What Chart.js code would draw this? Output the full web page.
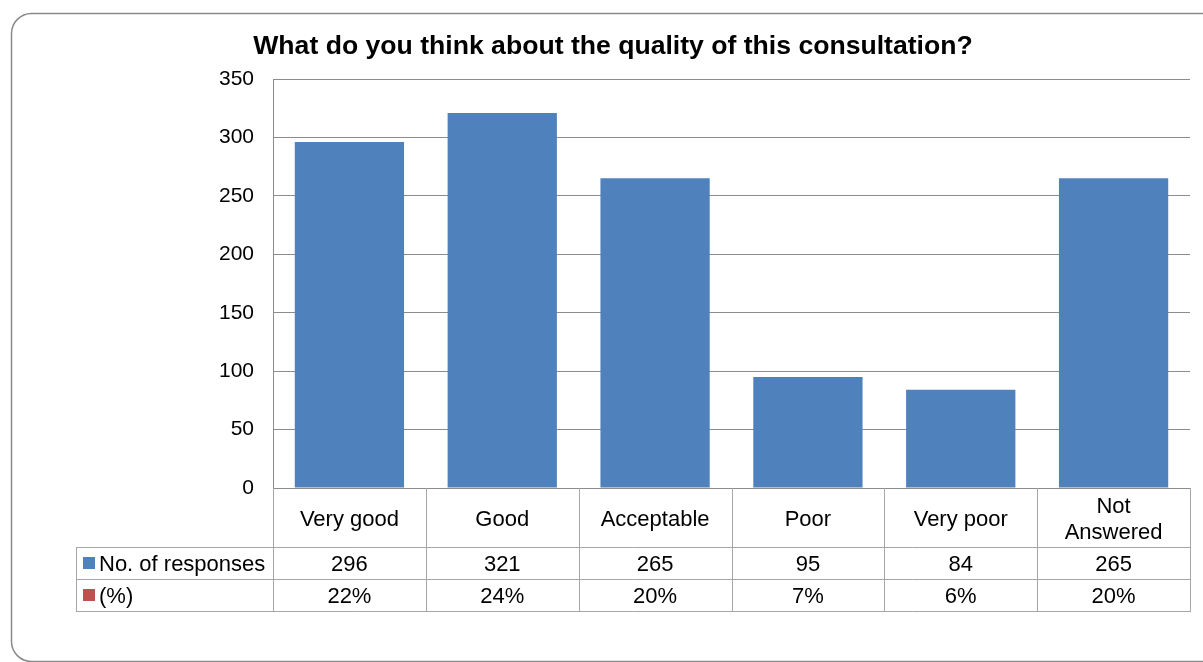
<!DOCTYPE html>
<html>
<head>
<meta charset="utf-8">
<script src="https://cdn.jsdelivr.net/npm/chart.js@4"></script>
<style>
  html, body { margin: 0; padding: 0; background: #fff; }
  #wrap { width: 1203px; height: 662px; }
</style>
</head>
<body>
<div id="wrap"><canvas id="graficoQualidade" width="1203" height="662"></canvas></div>
<script>
const categorias = ['Very good', 'Good', 'Acceptable', 'Poor', 'Very poor', ['Not', 'Answered']];
const respostas = [296, 321, 265, 95, 84, 265];
const percentuais = [22, 24, 20, 7, 6, 20];
const ticksY = [0, 50, 100, 150, 200, 250, 300, 350];

const titulo = 'What do you think about the quality of this consultation?';
const fonte = '"Liberation Sans", Arial, sans-serif';
const corBarra = '#4F81BD';
const corPercentual = '#C0504D';
const corGrade = '#8c8c8c';
const corTabela = '#a6a6a6';

// linhas da tabela de dados abaixo do eixo x
const linhasTabela = [
  { rotulo: 'No. of responses', cor: corBarra, valores: respostas.map(v => String(v)) },
  { rotulo: '(%)', cor: corPercentual, valores: percentuais.map(v => v + '%') }
];

const pluginTabela = {
  id: 'tabelaDados',
  beforeDraw(chart) {
    const ctx = chart.ctx;
    ctx.save();
    // moldura arredondada do gráfico
    ctx.strokeStyle = '#8a8a8a';
    ctx.lineWidth = 1.5;
    ctx.beginPath();
    ctx.roundRect(11.5, 13.5, 1230, 648, 20);
    ctx.stroke();
    ctx.restore();
  },
  afterDraw(chart) {
    const ctx = chart.ctx;
    const area = chart.chartArea;
    const x = chart.scales.x;
    const passo = (area.right - area.left) / categorias.length;
    const topoTabela = 547;
    const alturaLinha = 32;
    const fundoTabela = topoTabela + alturaLinha * linhasTabela.length;
    const esquerdaTabela = 76;

    ctx.save();
    ctx.font = 'bold 26.6px ' + fonte;
    ctx.fillStyle = '#000';
    ctx.textAlign = 'center';
    ctx.textBaseline = 'middle';
    ctx.fillText(titulo, 613, 47);

    ctx.strokeStyle = corTabela;
    ctx.lineWidth = 1;
    ctx.beginPath();
    for (let i = 0; i <= categorias.length; i++) {
      const px = Math.round(area.left + i * passo) + 0.5;
      ctx.moveTo(px, area.bottom);
      ctx.lineTo(px, fundoTabela);
    }
    ctx.moveTo(esquerdaTabela + 0.5, topoTabela);
    ctx.lineTo(esquerdaTabela + 0.5, fundoTabela);
    for (let r = 0; r <= linhasTabela.length; r++) {
      const py = topoTabela + r * alturaLinha + 0.5;
      ctx.moveTo(esquerdaTabela, py);
      ctx.lineTo(Math.round(area.right) + 1, py);
    }
    ctx.stroke();

    ctx.font = '22px ' + fonte;
    linhasTabela.forEach((linha, r) => {
      const cy = topoTabela + r * alturaLinha + alturaLinha / 2;
      ctx.fillStyle = linha.cor;
      ctx.fillRect(83, cy - 6, 12, 12);
      ctx.fillStyle = '#000';
      ctx.textAlign = 'left';
      ctx.fillText(linha.rotulo, 99, cy + 1.5);
      ctx.textAlign = 'center';
      linha.valores.forEach((v, i) => {
        ctx.fillText(v, x.getPixelForValue(i), cy + 1.5);
      });
    });
    ctx.restore();
  }
};

new Chart(document.getElementById('graficoQualidade'), {
  type: 'bar',
  data: {
    labels: categorias,
    datasets: [{
      label: 'No. of responses',
      data: respostas,
      backgroundColor: corBarra,
      borderWidth: 0,
      categoryPercentage: 1,
      barPercentage: 0.715
    }]
  },
  options: {
    responsive: false,
    animation: false,
    layout: {
      padding: { top: 79, right: 13, bottom: 0, left: 0 }
    },
    plugins: {
      legend: { display: false },
      title: { display: false },
      tooltip: { enabled: false }
    },
    scales: {
      x: {
        grid: { display: false, drawTicks: false },
        border: { display: false },
        ticks: {
          color: '#000',
          font: { family: fonte, size: 22, lineHeight: 1.2 },
          crossAlign: 'center',
          padding: 19,
          maxRotation: 0,
          autoSkip: false
        },
        afterFit(scale) { scale.height = 174; }
      },
      y: {
        min: 0,
        max: 350,
        afterBuildTicks(scale) { scale.ticks = ticksY.map(v => ({ value: v })); },
        grid: { color: corGrade, drawTicks: false },
        border: { display: true, color: corGrade },
        ticks: {
          color: '#000',
          font: { family: fonte, size: 21 },
          padding: 19
        },
        afterFit(scale) { scale.width = 273; }
      }
    }
  },
  plugins: [pluginTabela]
});
</script>
</body>
</html>
